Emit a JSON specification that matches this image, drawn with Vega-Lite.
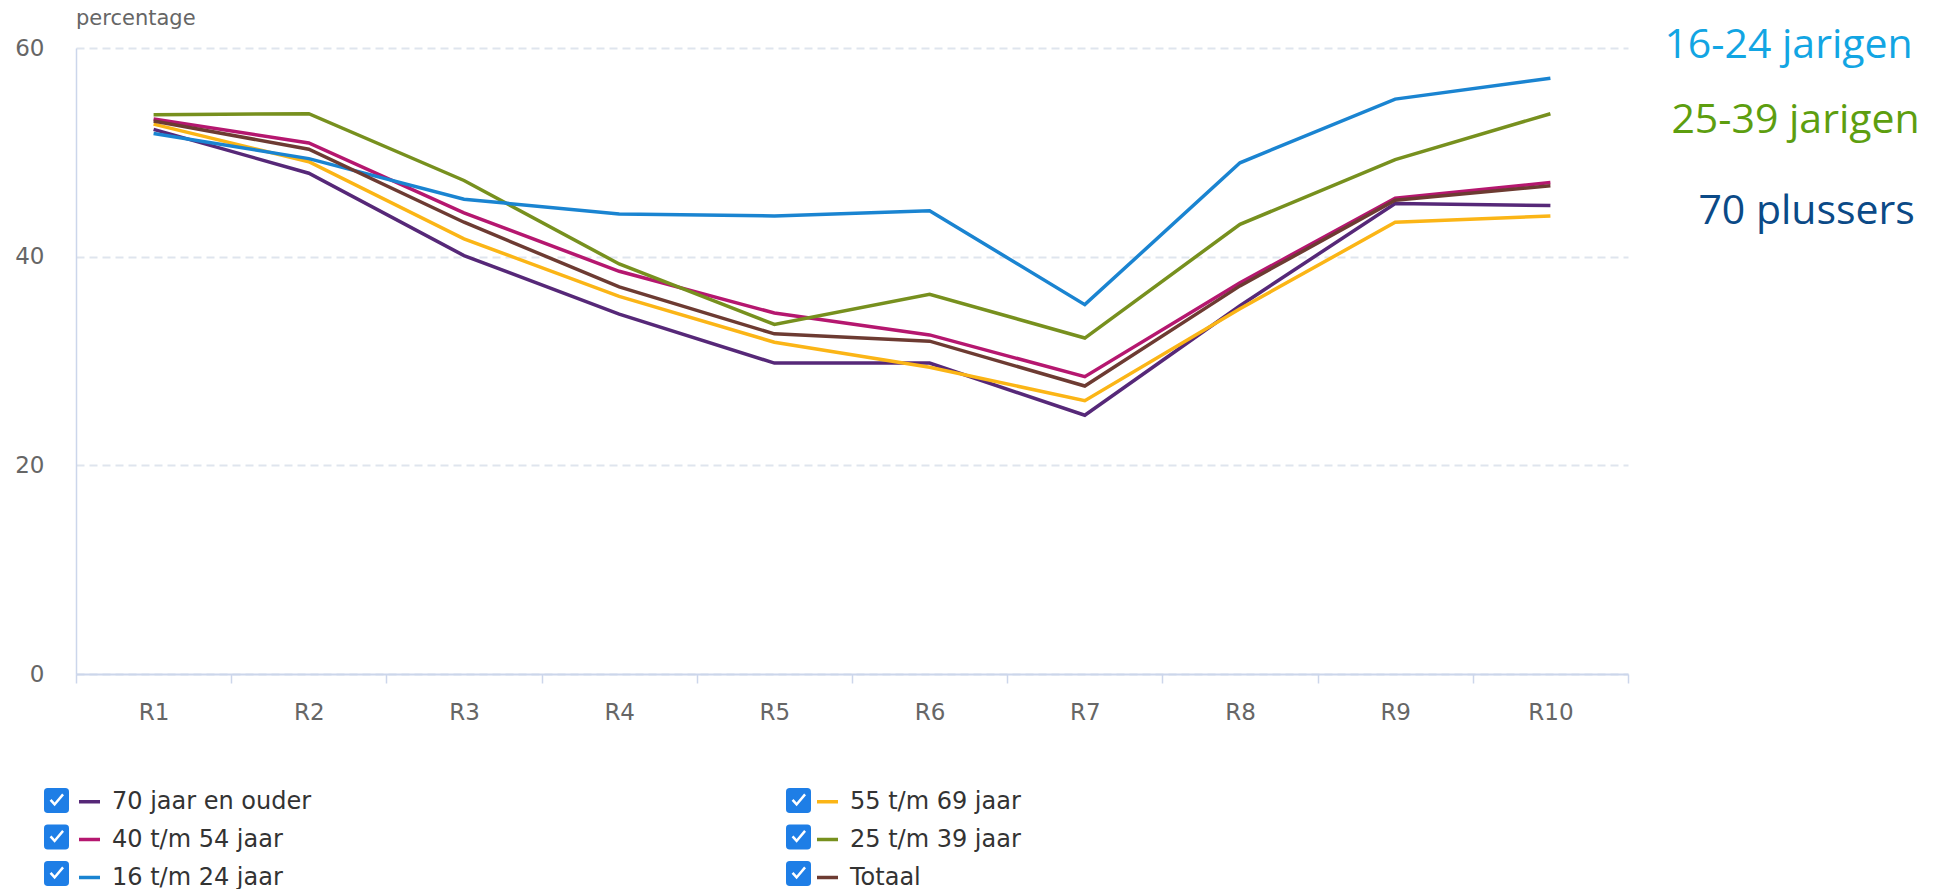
{
  "$schema": "https://vega.github.io/schema/vega-lite/v6.json",
  "width": 1552,
  "height": 626,
  "padding": {"left": 14, "top": 8, "right": 5, "bottom": 0},
  "background": "white",
  "title": {"text": "percentage", "anchor": "start", "frame": "group", "fontSize": 21, "font": "DejaVu Sans", "fontWeight": "normal", "color": "#666666", "offset": -4},
  "config": {"view": {"stroke": null}, "font": "DejaVu Sans"},
  "layer": [
    {
      "data": {"values": [
        {"round": "R1", "series": "70 jaar en ouder", "value": 52.2},
        {"round": "R2", "series": "70 jaar en ouder", "value": 48.0},
        {"round": "R3", "series": "70 jaar en ouder", "value": 40.1},
        {"round": "R4", "series": "70 jaar en ouder", "value": 34.5},
        {"round": "R5", "series": "70 jaar en ouder", "value": 29.8},
        {"round": "R6", "series": "70 jaar en ouder", "value": 29.8},
        {"round": "R7", "series": "70 jaar en ouder", "value": 24.8},
        {"round": "R8", "series": "70 jaar en ouder", "value": 35.3},
        {"round": "R9", "series": "70 jaar en ouder", "value": 45.1},
        {"round": "R10", "series": "70 jaar en ouder", "value": 44.9},
        {"round": "R1", "series": "55 t/m 69 jaar", "value": 52.7},
        {"round": "R2", "series": "55 t/m 69 jaar", "value": 49.1},
        {"round": "R3", "series": "55 t/m 69 jaar", "value": 41.7},
        {"round": "R4", "series": "55 t/m 69 jaar", "value": 36.2},
        {"round": "R5", "series": "55 t/m 69 jaar", "value": 31.8},
        {"round": "R6", "series": "55 t/m 69 jaar", "value": 29.4},
        {"round": "R7", "series": "55 t/m 69 jaar", "value": 26.2},
        {"round": "R8", "series": "55 t/m 69 jaar", "value": 35.0},
        {"round": "R9", "series": "55 t/m 69 jaar", "value": 43.3},
        {"round": "R10", "series": "55 t/m 69 jaar", "value": 43.9},
        {"round": "R1", "series": "40 t/m 54 jaar", "value": 53.2},
        {"round": "R2", "series": "40 t/m 54 jaar", "value": 50.9},
        {"round": "R3", "series": "40 t/m 54 jaar", "value": 44.2},
        {"round": "R4", "series": "40 t/m 54 jaar", "value": 38.6},
        {"round": "R5", "series": "40 t/m 54 jaar", "value": 34.6},
        {"round": "R6", "series": "40 t/m 54 jaar", "value": 32.5},
        {"round": "R7", "series": "40 t/m 54 jaar", "value": 28.5},
        {"round": "R8", "series": "40 t/m 54 jaar", "value": 37.5},
        {"round": "R9", "series": "40 t/m 54 jaar", "value": 45.6},
        {"round": "R10", "series": "40 t/m 54 jaar", "value": 47.1},
        {"round": "R1", "series": "25 t/m 39 jaar", "value": 53.6},
        {"round": "R2", "series": "25 t/m 39 jaar", "value": 53.7},
        {"round": "R3", "series": "25 t/m 39 jaar", "value": 47.3},
        {"round": "R4", "series": "25 t/m 39 jaar", "value": 39.3},
        {"round": "R5", "series": "25 t/m 39 jaar", "value": 33.5},
        {"round": "R6", "series": "25 t/m 39 jaar", "value": 36.4},
        {"round": "R7", "series": "25 t/m 39 jaar", "value": 32.2},
        {"round": "R8", "series": "25 t/m 39 jaar", "value": 43.1},
        {"round": "R9", "series": "25 t/m 39 jaar", "value": 49.3},
        {"round": "R10", "series": "25 t/m 39 jaar", "value": 53.7},
        {"round": "R1", "series": "16 t/m 24 jaar", "value": 51.8},
        {"round": "R2", "series": "16 t/m 24 jaar", "value": 49.4},
        {"round": "R3", "series": "16 t/m 24 jaar", "value": 45.5},
        {"round": "R4", "series": "16 t/m 24 jaar", "value": 44.1},
        {"round": "R5", "series": "16 t/m 24 jaar", "value": 43.9},
        {"round": "R6", "series": "16 t/m 24 jaar", "value": 44.4},
        {"round": "R7", "series": "16 t/m 24 jaar", "value": 35.4},
        {"round": "R8", "series": "16 t/m 24 jaar", "value": 49.0},
        {"round": "R9", "series": "16 t/m 24 jaar", "value": 55.1},
        {"round": "R10", "series": "16 t/m 24 jaar", "value": 57.1},
        {"round": "R1", "series": "Totaal", "value": 53.0},
        {"round": "R2", "series": "Totaal", "value": 50.3},
        {"round": "R3", "series": "Totaal", "value": 43.3},
        {"round": "R4", "series": "Totaal", "value": 37.1},
        {"round": "R5", "series": "Totaal", "value": 32.6},
        {"round": "R6", "series": "Totaal", "value": 31.9},
        {"round": "R7", "series": "Totaal", "value": 27.6},
        {"round": "R8", "series": "Totaal", "value": 37.2},
        {"round": "R9", "series": "Totaal", "value": 45.4},
        {"round": "R10", "series": "Totaal", "value": 46.8}
      ]},
      "mark": {"type": "line", "strokeWidth": 3.5},
      "encoding": {
        "x": {
          "field": "round", "type": "nominal",
          "scale": {"domain": ["R1","R2","R3","R4","R5","R6","R7","R8","R9","R10"], "paddingInner": 0, "paddingOuter": 0},
          "axis": {"title": null, "labelAngle": 0, "labelFontSize": 23, "labelFont": "DejaVu Sans", "labelColor": "#666666", "tickBand": "extent", "ticks": true, "tickSize": 9, "tickColor": "#ccd6eb", "tickWidth": 1.5, "domainColor": "#ccd6eb", "domainWidth": 2, "labelPadding": 18, "grid": false}
        },
        "y": {
          "field": "value", "type": "quantitative",
          "scale": {"domain": [0, 60], "nice": false},
          "axis": {"title": null, "values": [0, 20, 40, 60], "labelFontSize": 23, "labelFont": "DejaVu Sans", "labelColor": "#666666", "ticks": false, "labelPadding": 32, "domainColor": "#ccd6eb", "domainWidth": 1.5, "grid": true, "gridColor": "#dfe5ee", "gridDash": [8, 5], "gridWidth": 2}
        },
        "color": {
          "field": "series", "type": "nominal",
          "scale": {
            "domain": ["70 jaar en ouder", "40 t/m 54 jaar", "16 t/m 24 jaar", "55 t/m 69 jaar", "25 t/m 39 jaar", "Totaal"],
            "range": ["#562878", "#b5176f", "#1a84d1", "#fbb516", "#77901e", "#6d3b32"]
          },
          "legend": {"orient": "none", "legendX": 1, "legendY": 741, "columns": 2, "columnPadding": 498, "rowPadding": 13, "symbolType": "stroke", "symbolSize": 441, "symbolStrokeWidth": 3.5, "labelFontSize": 24, "labelFont": "DejaVu Sans", "labelColor": "#333333", "labelOffset": 10, "labelLimit": 0, "title": null}
        },
        "opacity": {
          "field": "series", "type": "nominal",
          "scale": {
            "domain": ["Totaal", "25 t/m 39 jaar", "55 t/m 69 jaar", "16 t/m 24 jaar", "40 t/m 54 jaar", "70 jaar en ouder"],
            "range": [1, 1]
          },
          "legend": {
            "orient": "none", "legendX": -32, "legendY": 740, "columns": 2, "columnPadding": 717, "rowPadding": 11.5,
            "symbolType": "M-0.7,-1H0.7Q1,-1 1,-0.7V0.7Q1,1 0.7,1H-0.7Q-1,1 -1,0.7V-0.7Q-1,-1 -0.7,-1Z M-0.55,0.02L-0.15,0.45L0.6,-0.42L0.45,-0.57L-0.15,0.15L-0.4,-0.13Z",
            "symbolSize": 625, "symbolFillColor": "#1e7ee6", "symbolStrokeWidth": 0, "symbolOpacity": 1,
            "labelExpr": "''", "labelOffset": 0, "labelFontSize": 1, "title": null,
            "encode": {"symbols": {"update": {"fill": {"value": "#1e7ee6"}, "stroke": {"value": "transparent"}, "opacity": {"value": 1}}}}
          }
        }
      }
    },
    {
      "data": {"values": [{}]},
      "mark": {"type": "text", "align": "left", "baseline": "alphabetic", "font": "Open Sans", "fontSize": 41, "color": "#12a5e3", "dx": 114},
      "encoding": {"x": {"datum": "R10"}, "y": {"datum": 59.0}, "text": {"value": "16-24 jarigen"}}
    },
    {
      "data": {"values": [{}]},
      "mark": {"type": "text", "align": "left", "baseline": "alphabetic", "font": "Open Sans", "fontSize": 41, "color": "#5d9e0f", "dx": 121},
      "encoding": {"x": {"datum": "R10"}, "y": {"datum": 51.85}, "text": {"value": "25-39 jarigen"}}
    },
    {
      "data": {"values": [{}]},
      "mark": {"type": "text", "align": "left", "baseline": "alphabetic", "font": "Open Sans", "fontSize": 41, "color": "#0b4a87", "dx": 148},
      "encoding": {"x": {"datum": "R10"}, "y": {"datum": 43.1}, "text": {"value": "70 plussers"}}
    }
  ]
}
